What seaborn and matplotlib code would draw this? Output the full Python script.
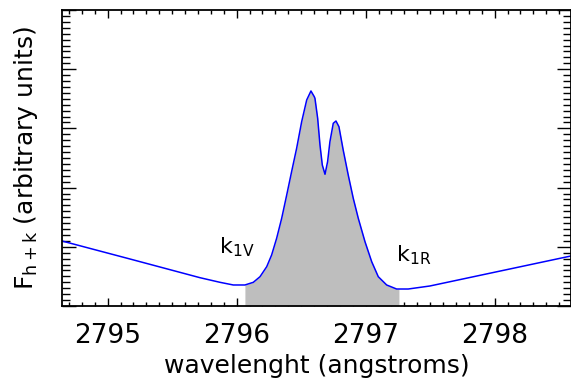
import numpy as np
import pandas as pd
import matplotlib
matplotlib.use('Agg')
import matplotlib.pyplot as plt
import seaborn as sns
from matplotlib.ticker import MultipleLocator, NullFormatter

# 판독한 스펙트럼 값 (파장, 플럭스)
wavelength = [2794.646, 2795.173, 2795.716, 2795.871, 2795.974, 2796.064, 2796.129,
              2796.181, 2796.233, 2796.271, 2796.310, 2796.349, 2796.388, 2796.426,
              2796.465, 2796.504, 2796.543, 2796.576, 2796.602, 2796.607, 2796.628,
              2796.646, 2796.664, 2796.685, 2796.705, 2796.723, 2796.749, 2796.770,
              2796.793, 2796.826, 2796.865, 2796.904, 2796.943, 2796.995, 2797.047,
              2797.098, 2797.163, 2797.240, 2797.258, 2797.330, 2797.498, 2798.592]
flux = [1.098, 0.794, 0.478, 0.400, 0.355, 0.355, 0.400,
        0.495, 0.664, 0.861, 1.144, 1.481, 1.875, 2.269,
        2.664, 3.113, 3.480, 3.632, 3.535, 3.508, 3.171,
        2.720, 2.382, 2.225, 2.438, 2.775, 3.086, 3.125,
        3.029, 2.635, 2.213, 1.819, 1.481, 1.086, 0.748,
        0.495, 0.355, 0.287, 0.287, 0.287, 0.338, 0.845]

k1v_pos = 2796.064
k1r_pos = 2797.258
x_range = (2794.646, 2798.592)
y_range = (0, 5)

df = pd.DataFrame({'wavelength': wavelength, 'flux': flux})

sns.set_style('ticks')
plt.rcParams['font.family'] = ['DejaVu Sans']
plt.rcParams['text.color'] = 'black'
plt.rcParams['axes.labelcolor'] = 'black'
plt.rcParams['xtick.color'] = 'black'
plt.rcParams['ytick.color'] = 'black'

fig = plt.figure(figsize=(5.71, 3.81), dpi=100)
ax = fig.add_axes([62 / 571, 1 - 306 / 381, 1 - 62 / 571, 296 / 381])

# k1V ~ k1R 사이를 회색으로 채웁니다
inside = (df['wavelength'] >= k1v_pos) & (df['wavelength'] <= k1r_pos)
ax.fill_between(df['wavelength'], 0, df['flux'], where=inside, color='#bebebe', lw=0)

sns.lineplot(data=df, x='wavelength', y='flux', color='#0000ff', lw=1.1, ax=ax)

ax.text(2796.0, 1.0, r'k$_{\mathregular{1V}}$', fontsize=16, ha='center', va='center')
ax.text(2797.37, 0.86, r'k$_{\mathregular{1R}}$', fontsize=16, ha='center', va='center')

ax.set_xlim(*x_range)
ax.set_ylim(*y_range)
ax.xaxis.set_major_locator(MultipleLocator(1))
ax.xaxis.set_minor_locator(MultipleLocator(0.1))
ax.yaxis.set_major_locator(MultipleLocator(1))
ax.yaxis.set_minor_locator(MultipleLocator(0.1))
ax.yaxis.set_major_formatter(NullFormatter())
ax.tick_params(axis='both', which='both', direction='in', top=True, right=True)
ax.tick_params(axis='x', which='major', length=6, width=1, labelsize=19, pad=12)
ax.tick_params(axis='x', which='minor', length=3, width=1)
ax.tick_params(axis='y', which='major', length=10, width=1)
ax.tick_params(axis='y', which='minor', length=6, width=1)
for s in ax.spines.values():
    s.set_linewidth(1.3)
    s.set_color('black')

ax.set_xlabel('wavelenght (angstroms)', fontsize=18, labelpad=4)
ax.set_ylabel(r'F$_{\mathregular{h+k}}$ (arbitrary units)', fontsize=18, labelpad=12)

fig.savefig('out.png', dpi=100)
